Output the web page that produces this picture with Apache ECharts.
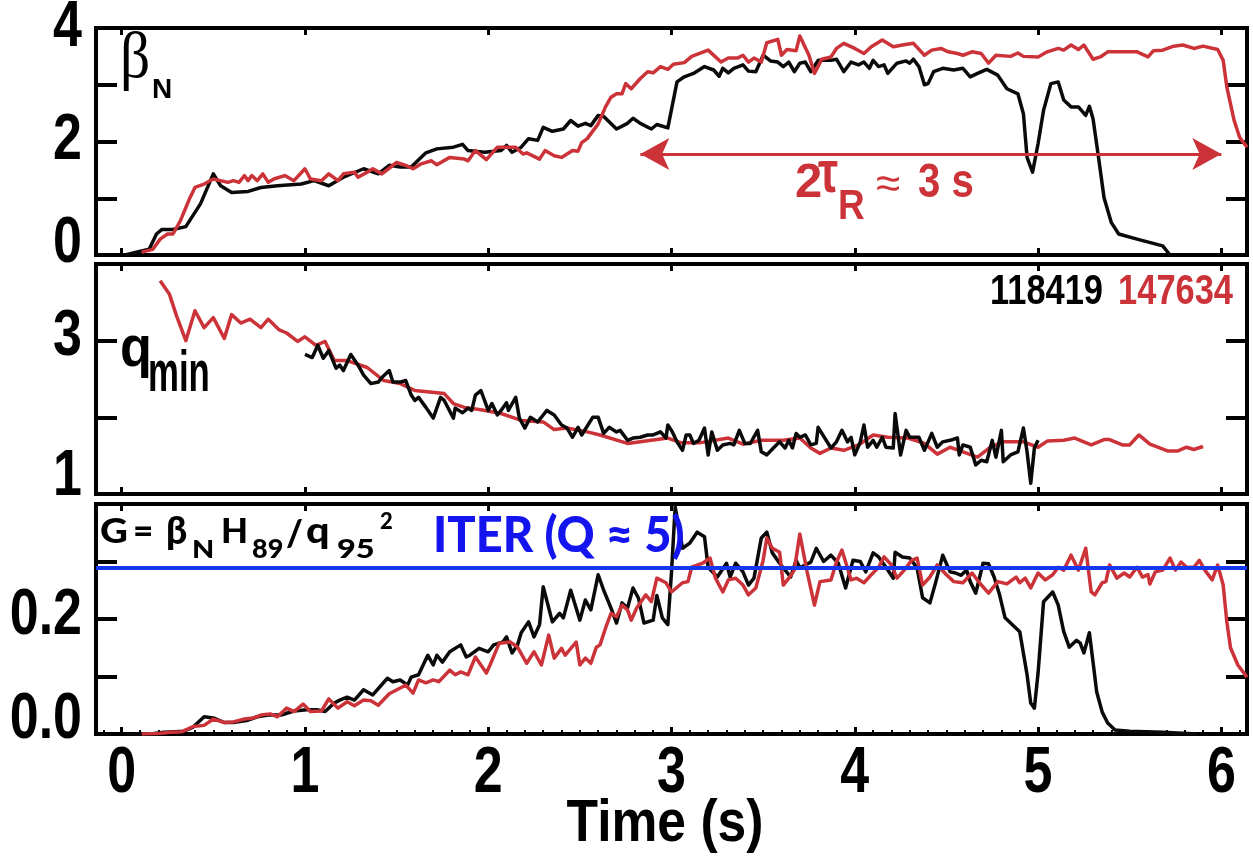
<!DOCTYPE html>
<html>
<head>
<meta charset="utf-8">
<script src="https://cdn.jsdelivr.net/npm/echarts@6/dist/echarts.min.js"></script>
<style>
  html, body { margin: 0; padding: 0; background: #fff; }
  #chart { width: 1253px; height: 865px; }
</style>
</head>
<body>
<div id="chart"></div>
<script>
// Shot 118419 (black) and shot 147634 (red): [time (s), value]
const betaN_118419 = [[0.02,0],[0.08,0.05],[0.15,0.1],[0.19,0.37],[0.22,0.45],[0.28,0.45],[0.35,0.5],[0.43,0.9],[0.5,1.43],[0.54,1.22],[0.6,1.1],[0.69,1.12],[0.76,1.19],[0.85,1.22],[0.98,1.25],[1.05,1.31],[1.13,1.22],[1.21,1.37],[1.32,1.52],[1.4,1.43],[1.46,1.58],[1.52,1.55],[1.58,1.55],[1.66,1.8],[1.72,1.87],[1.81,1.9],[1.86,1.95],[1.89,1.84],[1.98,1.81],[2.07,1.84],[2.1,1.93],[2.13,1.81],[2.18,1.9],[2.22,2.05],[2.27,2.02],[2.3,2.25],[2.35,2.18],[2.41,2.22],[2.45,2.37],[2.49,2.27],[2.53,2.32],[2.56,2.28],[2.6,2.46],[2.63,2.44],[2.7,2.22],[2.76,2.32],[2.79,2.41],[2.83,2.32],[2.89,2.22],[2.92,2.3],[2.98,2.24],[3.03,3.05],[3.07,3.14],[3.12,3.2],[3.18,3.32],[3.23,3.26],[3.26,3.15],[3.28,3.29],[3.31,3.21],[3.34,3.29],[3.39,3.35],[3.42,3.24],[3.46,3.23],[3.5,3.52],[3.54,3.42],[3.58,3.4],[3.61,3.32],[3.64,3.4],[3.67,3.23],[3.7,3.38],[3.73,3.4],[3.76,3.23],[3.8,3.43],[3.87,3.43],[3.9,3.45],[3.94,3.23],[3.98,3.4],[4.02,3.35],[4.05,3.4],[4.08,3.29],[4.1,3.43],[4.13,3.32],[4.16,3.35],[4.18,3.2],[4.23,3.38],[4.28,3.42],[4.3,3.38],[4.32,3.45],[4.35,3.32],[4.38,3.0],[4.4,3.02],[4.43,3.23],[4.48,3.29],[4.54,3.26],[4.59,3.29],[4.63,3.14],[4.67,3.2],[4.72,3.27],[4.78,3.17],[4.83,2.93],[4.89,2.84],[4.92,2.49],[4.94,1.72],[4.97,1.46],[5.0,1.96],[5.03,2.55],[5.07,3.02],[5.11,3.05],[5.14,2.73],[5.18,2.61],[5.22,2.61],[5.26,2.46],[5.28,2.62],[5.3,2.4],[5.33,1.72],[5.36,1.01],[5.4,0.57],[5.44,0.37],[5.54,0.28],[5.68,0.16],[5.72,0]];
const betaN_147634 = [[0.11,0.05],[0.17,0.1],[0.21,0.28],[0.25,0.37],[0.28,0.37],[0.32,0.6],[0.37,0.99],[0.4,1.19],[0.45,1.25],[0.5,1.34],[0.58,1.28],[0.61,1.31],[0.64,1.28],[0.67,1.4],[0.69,1.31],[0.71,1.4],[0.74,1.31],[0.77,1.43],[0.8,1.28],[0.83,1.34],[0.89,1.4],[0.9,1.43],[0.94,1.31],[1.0,1.52],[1.03,1.34],[1.09,1.31],[1.13,1.43],[1.18,1.31],[1.21,1.43],[1.27,1.46],[1.29,1.37],[1.34,1.46],[1.37,1.52],[1.42,1.43],[1.5,1.63],[1.55,1.58],[1.59,1.52],[1.63,1.6],[1.69,1.66],[1.72,1.59],[1.79,1.72],[1.87,1.69],[1.89,1.66],[1.93,1.84],[1.99,1.68],[2.05,1.9],[2.1,1.9],[2.15,1.9],[2.19,1.78],[2.21,1.8],[2.28,1.69],[2.31,1.84],[2.36,1.75],[2.4,1.72],[2.46,1.84],[2.49,1.83],[2.51,1.98],[2.54,2.05],[2.6,2.31],[2.64,2.61],[2.67,2.78],[2.7,2.84],[2.73,2.84],[2.75,3.02],[2.78,2.93],[2.83,3.11],[2.87,3.23],[2.9,3.21],[2.94,3.32],[2.98,3.27],[3.01,3.36],[3.07,3.39],[3.11,3.5],[3.2,3.61],[3.27,3.4],[3.31,3.47],[3.36,3.47],[3.39,3.52],[3.42,3.4],[3.45,3.47],[3.49,3.4],[3.52,3.74],[3.58,3.8],[3.6,3.52],[3.63,3.62],[3.68,3.6],[3.7,3.86],[3.75,3.52],[3.78,3.2],[3.82,3.45],[3.87,3.49],[3.9,3.64],[3.94,3.73],[4.0,3.64],[4.05,3.55],[4.09,3.67],[4.15,3.79],[4.21,3.67],[4.26,3.7],[4.32,3.73],[4.38,3.52],[4.42,3.61],[4.47,3.64],[4.51,3.58],[4.56,3.55],[4.59,3.52],[4.64,3.58],[4.69,3.55],[4.73,3.38],[4.77,3.52],[4.85,3.5],[4.89,3.56],[4.92,3.5],[5.0,3.49],[5.05,3.58],[5.11,3.64],[5.14,3.61],[5.18,3.7],[5.22,3.62],[5.25,3.7],[5.3,3.45],[5.34,3.49],[5.38,3.58],[5.45,3.58],[5.54,3.58],[5.6,3.49],[5.63,3.6],[5.68,3.61],[5.74,3.68],[5.79,3.7],[5.85,3.64],[5.9,3.68],[5.98,3.62],[6.01,3.43],[6.03,2.96],[6.07,2.37],[6.1,2.07],[6.14,1.9]];

const qmin_118419 = [[1.0,2.82],[1.04,2.78],[1.07,2.94],[1.1,2.77],[1.13,2.87],[1.17,2.64],[1.19,2.68],[1.21,2.61],[1.25,2.82],[1.29,2.68],[1.32,2.55],[1.36,2.44],[1.4,2.46],[1.42,2.52],[1.46,2.61],[1.48,2.46],[1.52,2.46],[1.55,2.48],[1.58,2.29],[1.6,2.22],[1.62,2.26],[1.66,2.13],[1.7,1.99],[1.74,2.26],[1.76,2.22],[1.81,1.99],[1.82,2.12],[1.86,2.06],[1.89,2.12],[1.91,2.09],[1.93,2.29],[1.96,2.35],[2.0,2.09],[2.02,2.18],[2.05,2.03],[2.07,2.09],[2.1,2.19],[2.11,2.09],[2.15,2.26],[2.17,1.99],[2.2,1.86],[2.23,2.0],[2.27,1.94],[2.3,2.03],[2.32,2.09],[2.36,2.03],[2.4,1.9],[2.43,1.86],[2.46,1.74],[2.49,1.87],[2.51,1.77],[2.57,2.0],[2.6,2.0],[2.63,1.79],[2.66,1.87],[2.7,1.81],[2.72,1.83],[2.76,1.7],[2.79,1.73],[2.83,1.74],[2.87,1.77],[2.9,1.77],[2.94,1.81],[2.97,1.73],[2.98,1.9],[3.0,1.83],[3.03,1.68],[3.06,1.57],[3.08,1.77],[3.1,1.77],[3.12,1.66],[3.15,1.7],[3.18,1.86],[3.2,1.51],[3.22,1.81],[3.25,1.57],[3.28,1.64],[3.32,1.66],[3.34,1.64],[3.37,1.83],[3.4,1.66],[3.43,1.66],[3.47,1.83],[3.49,1.55],[3.52,1.51],[3.56,1.61],[3.59,1.68],[3.62,1.6],[3.64,1.7],[3.66,1.6],[3.68,1.79],[3.7,1.74],[3.73,1.77],[3.76,1.64],[3.79,1.66],[3.8,1.87],[3.87,1.6],[3.9,1.68],[3.93,1.83],[3.96,1.68],[3.98,1.74],[4.0,1.51],[4.03,1.68],[4.05,1.9],[4.07,1.61],[4.1,1.7],[4.12,1.61],[4.15,1.74],[4.17,1.61],[4.21,1.6],[4.22,2.05],[4.25,1.51],[4.28,1.83],[4.3,1.74],[4.33,1.74],[4.35,1.74],[4.38,1.57],[4.4,1.68],[4.42,1.79],[4.45,1.61],[4.48,1.68],[4.52,1.7],[4.56,1.73],[4.57,1.51],[4.59,1.64],[4.63,1.61],[4.66,1.38],[4.69,1.44],[4.72,1.42],[4.75,1.7],[4.77,1.48],[4.8,1.83],[4.81,1.42],[4.85,1.51],[4.89,1.55],[4.92,1.86],[4.94,1.55],[4.96,1.14],[4.98,1.6],[5.0,1.7]];
const qmin_147634 = [[0.21,3.78],[0.26,3.61],[0.3,3.32],[0.35,3.0],[0.4,3.39],[0.45,3.17],[0.5,3.3],[0.56,3.03],[0.6,3.34],[0.65,3.23],[0.7,3.28],[0.76,3.17],[0.8,3.28],[0.86,3.14],[0.9,3.1],[0.96,2.99],[1.0,3.05],[1.06,2.94],[1.11,2.99],[1.16,2.74],[1.23,2.74],[1.34,2.65],[1.43,2.48],[1.52,2.44],[1.6,2.35],[1.76,2.31],[1.81,2.18],[1.87,2.13],[1.96,2.1],[2.07,2.05],[2.18,1.96],[2.3,1.94],[2.36,1.84],[2.43,1.86],[2.54,1.81],[2.61,1.77],[2.76,1.66],[2.98,1.73],[3.05,1.67],[3.16,1.67],[3.31,1.73],[3.39,1.65],[3.49,1.7],[3.61,1.7],[3.7,1.73],[3.76,1.6],[3.81,1.53],[3.87,1.6],[3.94,1.57],[4.02,1.64],[4.1,1.77],[4.18,1.74],[4.29,1.73],[4.38,1.66],[4.45,1.52],[4.52,1.61],[4.59,1.55],[4.67,1.48],[4.74,1.61],[4.81,1.68],[4.92,1.68],[5.0,1.61],[5.05,1.69],[5.14,1.7],[5.2,1.73],[5.29,1.64],[5.36,1.71],[5.39,1.71],[5.46,1.64],[5.5,1.64],[5.55,1.77],[5.61,1.65],[5.71,1.56],[5.76,1.56],[5.81,1.61],[5.85,1.58],[5.9,1.62]];

const G_118419 = [[0.02,0],[0.16,0],[0.23,0.003],[0.34,0.005],[0.39,0.012],[0.45,0.03],[0.5,0.028],[0.56,0.02],[0.61,0.02],[0.69,0.024],[0.74,0.03],[0.8,0.033],[0.87,0.033],[0.94,0.04],[1.01,0.042],[1.07,0.042],[1.11,0.039],[1.16,0.054],[1.19,0.059],[1.23,0.064],[1.27,0.059],[1.32,0.077],[1.37,0.068],[1.45,0.097],[1.48,0.091],[1.52,0.094],[1.56,0.085],[1.58,0.099],[1.62,0.103],[1.67,0.137],[1.7,0.12],[1.72,0.137],[1.75,0.125],[1.79,0.143],[1.85,0.155],[1.88,0.134],[1.9,0.137],[1.95,0.149],[2.0,0.143],[2.03,0.155],[2.08,0.16],[2.1,0.169],[2.13,0.141],[2.16,0.155],[2.18,0.176],[2.22,0.195],[2.25,0.169],[2.28,0.19],[2.3,0.256],[2.35,0.195],[2.39,0.21],[2.41,0.202],[2.45,0.25],[2.5,0.198],[2.53,0.233],[2.56,0.216],[2.6,0.277],[2.63,0.25],[2.67,0.219],[2.7,0.193],[2.73,0.228],[2.76,0.219],[2.79,0.254],[2.82,0.236],[2.85,0.193],[2.9,0.198],[2.92,0.241],[2.95,0.202],[2.98,0.19],[3.0,0.281],[3.02,0.395],[3.06,0.323],[3.1,0.332],[3.14,0.351],[3.18,0.343],[3.2,0.29],[3.25,0.273],[3.3,0.297],[3.32,0.273],[3.35,0.297],[3.39,0.282],[3.42,0.259],[3.45,0.271],[3.49,0.341],[3.52,0.351],[3.55,0.315],[3.59,0.297],[3.61,0.289],[3.65,0.273],[3.68,0.302],[3.7,0.289],[3.73,0.294],[3.76,0.299],[3.79,0.323],[3.83,0.3],[3.87,0.311],[3.91,0.297],[3.95,0.254],[3.99,0.302],[4.03,0.3],[4.06,0.282],[4.1,0.315],[4.13,0.308],[4.17,0.29],[4.21,0.271],[4.22,0.316],[4.26,0.308],[4.3,0.306],[4.34,0.289],[4.37,0.237],[4.41,0.228],[4.44,0.262],[4.48,0.311],[4.52,0.282],[4.55,0.28],[4.58,0.276],[4.61,0.285],[4.63,0.265],[4.66,0.245],[4.7,0.297],[4.73,0.296],[4.76,0.273],[4.79,0.242],[4.82,0.202],[4.86,0.19],[4.9,0.178],[4.94,0.103],[4.96,0.054],[4.98,0.045],[5.0,0.106],[5.03,0.23],[5.08,0.247],[5.11,0.224],[5.14,0.178],[5.17,0.151],[5.21,0.163],[5.23,0.158],[5.25,0.141],[5.28,0.176],[5.3,0.125],[5.32,0.073],[5.35,0.038],[5.38,0.019],[5.42,0.007],[5.5,0.005],[5.68,0.003],[5.87,0]];
const G_147634 = [[0.11,0],[0.2,0.001],[0.27,0.003],[0.33,0.004],[0.39,0.013],[0.45,0.015],[0.5,0.026],[0.56,0.02],[0.61,0.021],[0.67,0.026],[0.72,0.028],[0.76,0.033],[0.81,0.035],[0.85,0.03],[0.9,0.045],[0.94,0.039],[0.99,0.052],[1.03,0.039],[1.09,0.04],[1.13,0.061],[1.18,0.045],[1.23,0.056],[1.27,0.049],[1.32,0.059],[1.36,0.058],[1.4,0.05],[1.46,0.07],[1.52,0.08],[1.55,0.085],[1.59,0.071],[1.62,0.094],[1.66,0.089],[1.7,0.094],[1.73,0.091],[1.79,0.111],[1.82,0.103],[1.85,0.108],[1.89,0.103],[1.93,0.134],[1.99,0.106],[2.01,0.12],[2.06,0.158],[2.12,0.16],[2.16,0.151],[2.21,0.123],[2.25,0.143],[2.29,0.12],[2.33,0.172],[2.36,0.132],[2.4,0.149],[2.42,0.137],[2.48,0.16],[2.5,0.12],[2.53,0.132],[2.56,0.123],[2.59,0.151],[2.61,0.155],[2.64,0.184],[2.67,0.21],[2.7,0.204],[2.73,0.224],[2.76,0.216],[2.78,0.198],[2.81,0.219],[2.86,0.242],[2.89,0.23],[2.92,0.271],[2.97,0.263],[3.0,0.247],[3.06,0.263],[3.09,0.265],[3.11,0.29],[3.17,0.297],[3.21,0.306],[3.24,0.271],[3.28,0.247],[3.31,0.268],[3.35,0.271],[3.39,0.259],[3.42,0.242],[3.46,0.254],[3.5,0.302],[3.52,0.341],[3.55,0.323],[3.59,0.316],[3.61,0.259],[3.64,0.271],[3.67,0.285],[3.7,0.348],[3.74,0.282],[3.78,0.224],[3.81,0.265],[3.87,0.268],[3.9,0.299],[3.93,0.32],[3.98,0.268],[4.01,0.271],[4.05,0.263],[4.09,0.277],[4.13,0.29],[4.16,0.308],[4.2,0.294],[4.23,0.271],[4.27,0.285],[4.31,0.302],[4.34,0.306],[4.37,0.259],[4.41,0.273],[4.45,0.294],[4.5,0.277],[4.54,0.265],[4.59,0.263],[4.64,0.28],[4.68,0.263],[4.73,0.245],[4.78,0.265],[4.83,0.261],[4.88,0.273],[4.9,0.263],[4.93,0.271],[4.96,0.254],[5.0,0.28],[5.04,0.268],[5.08,0.277],[5.11,0.29],[5.14,0.285],[5.18,0.311],[5.22,0.285],[5.26,0.323],[5.29,0.247],[5.31,0.242],[5.35,0.263],[5.37,0.265],[5.39,0.294],[5.43,0.271],[5.47,0.28],[5.5,0.273],[5.54,0.29],[5.57,0.273],[5.6,0.277],[5.61,0.261],[5.64,0.282],[5.68,0.285],[5.72,0.306],[5.75,0.285],[5.78,0.299],[5.81,0.29],[5.85,0.29],[5.88,0.302],[5.91,0.285],[5.95,0.268],[5.98,0.294],[6.01,0.259],[6.03,0.195],[6.05,0.15],[6.09,0.12],[6.14,0.099]];

// ITER target for G, and the 2*tau_R span drawn as a double arrow
const G_ITER = 0.287;
const tauArrow = { from: 2.83, to: 6.0, level: 1.78 };

// tick positions and tick labels
const xTicks = [0, 1, 2, 3, 4, 5, 6];
const xMinorTicks = [];
for (let k = -1; k <= 61; k++) { if (k % 10 !== 0) xMinorTicks.push(k / 10); }
const betaNLabels = [0, 2, 4];
const qminLabels = [1, 3];
const GLabels = [0, 0.2];

const RED = '#cc3339';
const BLACK = '#0a0a0a';
const BLUE = '#1438f2';
const SANS = "'Liberation Sans',Arial,sans-serif";
const SERIF = "'Liberation Serif','Times New Roman',serif";
const GEO = "Lato,'Liberation Sans',sans-serif";
const X_MIN = -0.14, X_MAX = 6.14;

const grids = [
  { left: 96, right: 6, top: 28, height: 227 },
  { left: 96, right: 6, top: 264, height: 230 },
  { left: 96, right: 6, top: 504, height: 230 }
].map(g => Object.assign(g, {
  show: true, borderColor: '#000', borderWidth: 4, backgroundColor: 'transparent',
  containLabel: false, outerBoundsMode: 'none'
}));

function xAxisPair(gi) {
  const base = {
    gridIndex: gi, type: 'value', min: X_MIN, max: X_MAX,
    axisLine: { show: false, onZero: false }, splitLine: { show: false }, axisLabel: { show: false },
    axisTick: { inside: true, length: 7, customValues: xTicks, lineStyle: { width: 3, color: '#000' } }
  };
  return [
    Object.assign({}, base, { position: 'bottom' }),
    Object.assign({}, base, { position: 'top' })
  ];
}

function yAxisPair(gi, min, max, interval) {
  const base = {
    gridIndex: gi, type: 'value', min, max, interval,
    axisLine: { show: false, onZero: false }, splitLine: { show: false }, axisLabel: { show: false },
    axisTick: { inside: true, length: 21, lineStyle: { width: 4, color: '#000' } }
  };
  return [
    Object.assign({}, base, { position: 'left' }),
    Object.assign({}, base, { position: 'right' })
  ];
}

const xAxis = [].concat(xAxisPair(0), xAxisPair(1), xAxisPair(2));
// minor ticks along the bottom of the lowest panel
xAxis.push({
  gridIndex: 2, type: 'value', min: X_MIN, max: X_MAX, position: 'bottom',
  axisLine: { show: false, onZero: false }, splitLine: { show: false }, axisLabel: { show: false },
  axisTick: { inside: true, length: 4, customValues: xMinorTicks, lineStyle: { width: 2, color: '#000' } }
});

const yAxis = [].concat(
  yAxisPair(0, 0, 4, 1),
  yAxisPair(1, 1, 4, 1),
  yAxisPair(2, 0, 0.4, 0.1)
);

function line(name, data, color, xi, yi, z) {
  return {
    name, type: 'line', data, xAxisIndex: xi, yAxisIndex: yi, z,
    showSymbol: false, symbol: 'none', clip: true,
    lineStyle: { color, width: 3.5, join: 'round' }
  };
}

const series = [
  line('118419', betaN_118419, BLACK, 0, 0, 2),
  Object.assign(line('147634', betaN_147634, RED, 0, 0, 3), {
    markLine: {
      silent: true, symbol: ['arrow', 'arrow'], symbolSize: [24, 29],
      label: { show: false },
      lineStyle: { color: RED, width: 3, type: 'solid' },
      data: [[{ coord: [tauArrow.from, tauArrow.level] }, { coord: [tauArrow.to, tauArrow.level] }]]
    }
  }),
  line('147634', qmin_147634, RED, 2, 2, 2),
  line('118419', qmin_118419, BLACK, 2, 2, 3),
  line('118419', G_118419, BLACK, 4, 4, 2),
  Object.assign(line('147634', G_147634, RED, 4, 4, 3), {
    markLine: {
      silent: true, symbol: ['none', 'none'], label: { show: false }, z: 5,
      lineStyle: { color: BLUE, width: 4, type: 'solid' },
      data: [{ yAxis: G_ITER }]
    }
  })
];

const chart = echarts.init(document.getElementById('chart'), null, { renderer: 'canvas' });
chart.setOption({ animation: false, backgroundColor: '#fff', grid: grids, xAxis, yAxis, series });

// Text helper: (x, baseline) anchored, condensed with scaleX where the face is narrow.
// mid = distance from baseline to the em-box middle, as a fraction of the font size.
const MID = { sans: 0.3465, serif: 0.3375, geo: 0.387 };
function txt(x, baseline, text, o) {
  const kind = o.kind || 'sans';
  const fam = kind === 'serif' ? SERIF : kind === 'geo' ? GEO : SANS;
  const size = o.size;
  return {
    type: 'text', x, y: baseline - MID[kind] * size, z: 50,
    scaleX: o.sx || 1, silent: true,
    style: {
      text, fill: o.color || '#000', fontFamily: fam, fontSize: size,
      fontWeight: o.weight || 'bold', align: o.align || 'left', verticalAlign: 'middle'
    }
  };
}

const TICK_SIZE = 65, TICK_SX = 0.8;
const graphic = [];

// y tick labels, placed from each panel's own axis scale
function yLabels(axisIndex, values, digits, minShift, shift) {
  values.forEach((v, i) => {
    const py = chart.convertToPixel({ yAxisIndex: axisIndex }, v);
    const dy = i === 0 ? minShift : shift;
    graphic.push(txt(82, py + dy + 0.358 * TICK_SIZE, v.toFixed(digits),
      { size: TICK_SIZE, sx: TICK_SX, align: 'right' }));
  });
}
yLabels(0, betaNLabels, 0, -12, -1);
yLabels(2, qminLabels, 0, -18, -4);
yLabels(4, GLabels, 1, -15, -4);

// x tick labels under the lowest panel
xTicks.forEach(v => {
  const px = chart.convertToPixel({ xAxisIndex: 4 }, v);
  graphic.push(txt(px, 797, String(v), { size: TICK_SIZE, sx: TICK_SX, align: 'center' }));
});
graphic.push(txt(665, 845, 'Time (s)', { size: 60, sx: 0.86, align: 'center' }));

// beta_N
graphic.push(txt(120, 82, 'β', { kind: 'serif', size: 66, weight: 'normal', sx: 0.9 }));
graphic.push(txt(152, 100, 'N', { size: 28 }));
// 2 tau_R ~ 3 s
graphic.push(txt(795, 200, '2', { size: 49, color: RED }));
graphic.push(txt(818, 196, 'τ', { size: 60, sx: 0.75, color: RED }));
graphic.push(txt(838, 222, 'R', { size: 42, sx: 0.88, color: RED }));
graphic.push(txt(876, 201, '≈', { size: 44, weight: 'normal', color: RED }));
graphic.push(txt(918, 200, '3 s', { size: 49, sx: 0.82, color: RED }));
// shot numbers
graphic.push(txt(1103, 307, '118419', { size: 42, sx: 0.82, align: 'right' }));
graphic.push(txt(1233, 307, '147634', { size: 42, sx: 0.82, align: 'right', color: RED }));
// q_min
graphic.push(txt(120, 370, 'q', { size: 58, sx: 0.9 }));
graphic.push(txt(148, 395, 'min', { size: 58, sx: 0.6 }));
// G = beta_N H_89 / q_95^2
const GW = 900;
graphic.push(txt(100, 545, 'G', { kind: 'geo', size: 35, sx: 1.1, weight: GW }));
graphic.push(txt(133, 545, '=', { kind: 'geo', size: 35, weight: GW }));
graphic.push(txt(166, 546, 'β', { kind: 'geo', size: 37, weight: GW }));
graphic.push(txt(192, 560, 'N', { kind: 'geo', size: 25, sx: 1.15, weight: GW }));
graphic.push(txt(221, 545, 'H', { kind: 'geo', size: 35, weight: GW }));
graphic.push(txt(252, 560, '89', { kind: 'geo', size: 27, weight: GW }));
graphic.push(txt(286, 548, '/', { kind: 'geo', size: 36, weight: GW }));
graphic.push(txt(306, 545, 'q', { kind: 'geo', size: 36, sx: 1.15, weight: GW }));
graphic.push(txt(337, 560, '95', { kind: 'geo', size: 26, sx: 1.25, weight: GW }));
graphic.push(txt(380, 530, '2', { kind: 'geo', size: 22, weight: GW }));
// ITER reference label
graphic.push(txt(433, 555, 'ITER (Q ≈ 5)', { kind: 'geo', size: 49, sx: 0.96, color: '#1414ee', weight: GW }));

chart.setOption({ graphic });
</script>
</body>
</html>
